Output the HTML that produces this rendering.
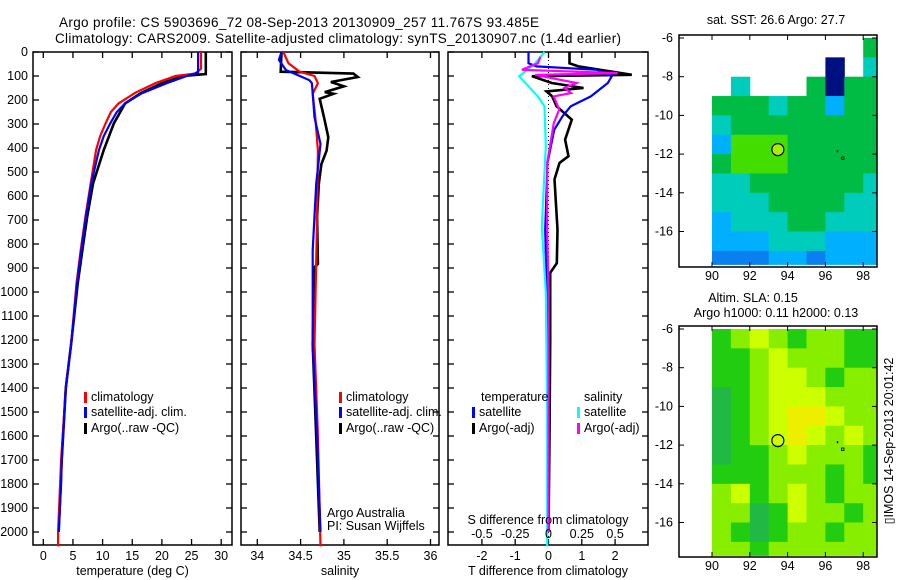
<!DOCTYPE html>
<html><head><meta charset="utf-8"><style>
html,body{margin:0;padding:0;background:#fff;}
svg{display:block;font-family:"Liberation Sans",sans-serif;}
text{fill:#000;}
</style></head><body>
<svg id="fig" width="900" height="580" viewBox="0 0 900 580" xmlns="http://www.w3.org/2000/svg">
<text x="59" y="27" font-size="13.5" textLength="480">Argo profile: CS 5903696_72 08-Sep-2013 20130909_257 11.767S 93.485E</text>
<text x="55" y="43" font-size="13.5" textLength="566">Climatology: CARS2009. Satellite-adjusted climatology: synTS_20130907.nc (1.4d earlier)</text>
<g id="plots"></g>
<text x="776" y="24" font-size="12.5" text-anchor="middle">sat. SST: 26.6 Argo: 27.7</text>
<text x="753" y="302" font-size="12.5" text-anchor="middle">Altim. SLA: 0.15</text>
<text x="776" y="317" font-size="12.5" text-anchor="middle">Argo h1000: 0.11 h2000: 0.13</text>
<text transform="translate(893,441) rotate(-90)" font-size="12.5" text-anchor="middle">▯IMOS 14-Sep-2013 20:01:42</text>
</svg>
<script>
// ---- profile data ----
const tempDepthBlack=[0,92,100,130,172,214,297,408,547,686,825,964,1214,1400,1700,2000];
const tempArgo=[27.4,27.4,23.6,20.0,16.4,13.8,11.9,10.2,8.4,7.4,6.6,5.8,4.7,3.8,3.1,2.6];
const tempDepthRed=[0,70,90,100,130,170,214,250,297,350,408,547,686,825,964,1214,1400,1700,2000,2060];
const tempClim=[26.6,26.6,25.6,22.3,18.9,15.5,12.7,11.4,10.5,9.6,8.9,8.0,7.1,6.3,5.6,4.7,3.8,3.0,2.5,2.5];
const tempDepthBlue=[0,85,100,130,172,214,250,297,350,408,547,686,825,964,1214,1400,1700,1800,2000];
const tempSat=[26.1,26.1,24.2,20.8,16.6,13.8,12.4,11.3,10.2,9.4,8.1,7.2,6.4,5.7,4.7,3.8,3.1,3.0,2.6];

const salDepthBlack=[0,82,90,104,125,143,167,174,195,272,355,411,467,550,689,883,897,1217,1600,2000];
const salArgo=[34.28,34.27,35.11,35.16,34.85,35.0,34.78,34.88,34.72,34.77,34.82,34.80,34.74,34.71,34.69,34.70,34.66,34.64,34.68,34.72];
const salDepthRed=[0,47,82,100,130,174,272,411,689,1217,1600,2060];
const salClim=[34.30,34.36,34.49,34.66,34.70,34.64,34.67,34.70,34.69,34.66,34.70,34.73];
const salDepthBlue=[0,33,75,117,130,272,383,550,826,1217,1600,2000];
const salSat=[34.28,34.25,34.33,34.60,34.63,34.66,34.73,34.68,34.64,34.64,34.69,34.73];

const dDepthTA=[0,47,60,95,101,129,150,164,185,226,282,365,434,462,531,740,880,920,1200,1600,2000];
const dTArgo=[0.63,0.63,0.9,2.5,-0.5,0.1,1.05,-0.06,0.11,0.24,0.7,0.5,0.6,0.33,0.18,0.27,0.25,0.05,0.05,0.03,0.0];
const dDepthTS=[0,47,60,74,101,129,185,226,268,324,462,740,1000,1500,2000];
const dTSat=[-0.6,-0.6,-0.36,1.45,1.9,1.78,1.27,0.67,0.42,0.17,-0.03,-0.1,-0.05,0,0];
const dDepthSA=[20,47,74,88,95,129,150,171,185,240,296,462,740,1000,1500,2000];
const dSArgo=[-0.06,-0.08,-0.2,0.52,-0.1,0.21,0.12,0.17,0.04,0.08,0.04,-0.01,-0.01,0,0,0];
const dDepthSS=[0,47,101,185,226,393,726,1000,1500,2000,2060];
const dSSat=[-0.03,-0.1,-0.22,-0.08,-0.03,-0.02,-0.05,-0.02,-0.01,-0.01,-0.01];

const depthTicks=[0,100,200,300,400,500,600,700,800,900,1000,1100,1200,1300,1400,1500,1600,1700,1800,1900,2000];
const tempTicks=[0,5,10,15,20,25,30];
const salTicks=[34,34.5,35,35.5,36];
const salTickLabels=['34','34.5','35','35.5','36'];
const dTTicks=[-2,-1,0,1,2];
const dSTicks=[-0.5,-0.25,0,0.25,0.5];
const dSTickLabels=['-0.5','-0.25','0','0.25','0.5'];

// ---- map data (1 deg cells, lon 90..98, lat -6..-17) ----
const mapLons=[90,91,92,93,94,95,96,97,98];
const mapLats=[-6,-7,-8,-9,-10,-11,-12,-13,-14,-15,-16,-17];
const sstRows=["WWWWWWWWG","WWWWWWNWC","WCWWWGNGG","GGGCGGBGG","CGGGGGGGG","BLLLGGGGG","GLLLGGGGG","CCGGGGGGC","CCCGGGGCC","BCCCGGCCC","BBBCCCBBB","DDDBBDBBB"];
const slaRows=["GLYLGLLGG","GGLYLLLGG","GGLYYLGLL","DGLYYYLLL","DGLYOOYLL","DGLYOYLYL","DGGLYLLLG","GGGLLLGLG","LYGLYLGLL","LLDGYLLGL","LGDGLLGLL","LLGLLLLLL"];
const argoLon=93.485, argoLat=-11.767;

const NS='http://www.w3.org/2000/svg';
const root=document.getElementById('plots');
function el(tag,attrs,parent){const e=document.createElementNS(NS,tag);for(const k in attrs)e.setAttribute(k,attrs[k]);(parent||root).appendChild(e);return e;}
function txt(x,y,s,size,anchor,parent){const t=el('text',{x:x,y:y,'font-size':size,'text-anchor':anchor||'start'},parent);t.textContent=s;return t;}

const yD=d=>52+d*0.24;
const TOP=52,BOT=545;

function panel(name,x0,x1,ticks,labels,xf,title){
  const g=el('g',{});
  
  
  const f=el('rect',{x:x0,y:TOP,width:x1-x0,height:BOT-TOP,fill:'none',stroke:'#000','stroke-width':1.5},g);
  
  
  depthTicks.forEach(d=>{el('line',{x1:x0,x2:x0+6,y1:yD(d),y2:yD(d),stroke:'#000','stroke-width':1.3},g);el('line',{x1:x1-6,x2:x1,y1:yD(d),y2:yD(d),stroke:'#000','stroke-width':1.3},g);});
  ticks.forEach((v,i)=>{const x=xf(v);el('line',{x1:x,x2:x,y1:TOP,y2:TOP+6,stroke:'#000','stroke-width':1.3},g);el('line',{x1:x,x2:x,y1:BOT-6,y2:BOT,stroke:'#000','stroke-width':1.3},g);
    if(labels){const t=txt(x,560,labels[i],12.5,'middle',g);}});
  if(title){const t=txt((x0+x1)/2,575,title,12.5,'middle',g);}
  return g;
}
function line(g,name,depths,vals,xf,color,w){
  const pts=depths.map((d,i)=>xf(vals[i]).toFixed(1)+','+yD(d).toFixed(1)).join(' ');
  const p=el('polyline',{points:pts,fill:'none',stroke:color,'stroke-width':w||2.2,'stroke-linejoin':'miter'},g);
  
  
}
function legend(g,x,y,color,label,name){
  const r=el('rect',{x:x,y:y-9,width:3,height:11,fill:color},g);
  
  
  const t=txt(x+7,y,label,12.5,'start',g);
  
  
}

// depth labels
depthTicks.forEach(d=>{const t=txt(28,yD(d)+4,String(d),12.5,'end');});

// panel 1 temperature
const xT=v=>43.3+v*5.93;
const g1=panel('temperature-panel',33,232,tempTicks,tempTicks.map(String),xT,'temperature (deg C)');
line(g1,'argo-temperature-line',tempDepthBlack,tempArgo,xT,'#000',2.6);
line(g1,'climatology-temperature-line',tempDepthRed,tempClim,xT,'#f00');
line(g1,'satellite-temperature-line',tempDepthBlue,tempSat,xT,'#00f');
legend(g1,84,401,'#f00','climatology','legend-climatology');
legend(g1,84,416,'#00f','satellite-adj. clim.','legend-satellite');
legend(g1,84,432,'#000','Argo(..raw -QC)','legend-argo');

// panel 2 salinity
const xS=v=>257.3+(v-34)*86.6;
const g2=panel('salinity-panel',241,439,salTicks,salTickLabels,xS,'salinity');
line(g2,'argo-salinity-line',salDepthBlack,salArgo,xS,'#000',2.6);
line(g2,'climatology-salinity-line',salDepthRed,salClim,xS,'#f00');
line(g2,'satellite-salinity-line',salDepthBlue,salSat,xS,'#00f');
legend(g2,339,401,'#f00','climatology','legend-climatology-2');
legend(g2,339,416,'#00f','satellite-adj. clim.','legend-satellite-2');
legend(g2,339,432,'#000','Argo(..raw -QC)','legend-argo-2');
let t=txt(327,517,'Argo Australia',12.5,'start',g2);
t=txt(327,530,'PI: Susan Wijffels',12.5,'start',g2);

// panel 3 differences
const xDT=v=>548.5+v*33.3;
const xDS=v=>548.5+v*133.2;
const g3=panel('difference-panel',448,648,dTTicks,dTTicks.map(String),xDT,'T difference from climatology');
const zl=el('line',{x1:xDT(0),x2:xDT(0),y1:TOP,y2:BOT,stroke:'#000','stroke-width':1,'stroke-dasharray':'1,3'},g3);


line(g3,'argo-t-diff-line',dDepthTA,dTArgo,xDT,'#000',2.6);
line(g3,'satellite-t-diff-line',dDepthTS,dTSat,xDT,'#00f');
line(g3,'satellite-s-diff-line',dDepthSS,dSSat,xDS,'#0ff');
line(g3,'argo-s-diff-line',dDepthSA,dSArgo,xDS,'#f0f');
t=txt(481,401,'temperature',12.5,'start',g3);
t=txt(584,401,'salinity',12.5,'start',g3);
legend(g3,472,416,'#00f','satellite','legend-t-satellite');
legend(g3,472,432,'#000','Argo(-adj)','legend-t-argo');
legend(g3,577,416,'#0ff','satellite','legend-s-satellite');
legend(g3,577,432,'#f0f','Argo(-adj)','legend-s-argo');
t=txt(548,524,'S difference from climatology',12.5,'middle',g3);
dSTicks.forEach((v,i)=>{const tt=txt(xDS(v),538,dSTickLabels[i],12.5,'middle',g3);});

// ---- maps ----
const sstColors={G:'#00bb44',L:'#44dd00',C:'#00ccbb',B:'#00b0ff',D:'#0a80f0',N:'#001080',Y:'#ccff00'};
const slaColors={G:'#22cc11',D:'#22b844',L:'#88ee00',Y:'#ccff00',O:'#eeee00'};
function map(name,top,bot,latY0,rows,colors,filled){
  const g=el('g',{});
  
  
  const xL=v=>712+(v-90)*18.9;
  const yL=v=>latY0+(-6-v)*19.35;
  rows.forEach((row,r)=>{for(let c=0;c<mapLons.length;c++){const k=row[c];if(!colors[k])continue;
    const lo=mapLons[c],la=mapLats[r];
    const x0=xL(lo),x1=Math.min(xL(lo+1),877),y0=Math.max(yL(la),top),y1=Math.min(yL(la-1),yL(-17.7));
    const cell=el('rect',{x:x0,y:y0,width:x1-x0+0.5,height:y1-y0+0.5,fill:colors[k]},g);
    
    }});
  const f=el('rect',{x:679,y:top,width:198,height:bot-top,fill:'none',stroke:'#000','stroke-width':1.5},g);
  
  
  [90,92,94,96,98].forEach(v=>{const x=xL(v);el('line',{x1:x,x2:x,y1:bot-5,y2:bot,stroke:'#000'},g);el('line',{x1:x,x2:x,y1:top,y2:top+5,stroke:'#000'},g);
    const tl=txt(x,bot+13,String(v),12.5,'middle',g);});
  [-6,-8,-10,-12,-14,-16].forEach(v=>{const y=yL(v);el('line',{x1:679,x2:684,y1:y,y2:y,stroke:'#000'},g);el('line',{x1:872,x2:877,y1:y,y2:y,stroke:'#000'},g);
    const tl=txt(673,y+4,String(v),12.5,'end',g);});
  const c=el('circle',{cx:xL(argoLon),cy:yL(argoLat),r:6,fill:filled?'#aaee00':'none',stroke:'#000','stroke-width':1.2},g);
  
  
  el('rect',{x:xL(96.6),y:yL(-11.8),width:1.5,height:2,fill:'#000'},g);
  el('rect',{x:xL(96.85),y:yL(-12.15),width:2.5,height:2.5,fill:'none',stroke:'#000','stroke-width':0.8},g);
}
map('sst-map',35,267,38,sstRows,sstColors,true);
map('sla-map',326,557,329,slaRows,slaColors,false);
</script>
</body></html>
